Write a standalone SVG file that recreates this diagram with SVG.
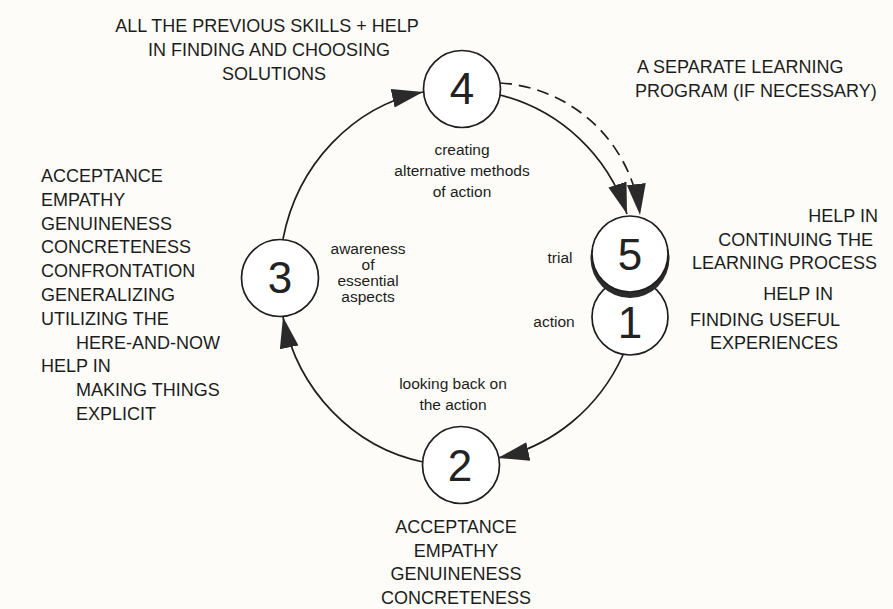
<svg xmlns="http://www.w3.org/2000/svg" width="893" height="609" viewBox="0 0 893 609">
<style>
  .bg { fill: #fdfcf8; }
  .node { fill: #ffffff; stroke: #1e1e1e; stroke-width: 1.7; }
  .num { font-family: "Liberation Sans", Arial, sans-serif; font-size: 44px; fill: #222; text-anchor: middle; }
  .cap { font-family: "Liberation Sans", Arial, sans-serif; font-size: 18px; fill: #1c1c1c; }
  .small { font-family: "Liberation Sans", Arial, sans-serif; font-size: 15.5px; fill: #1c1c1c; text-anchor: middle; }
  .mid { text-anchor: middle; }
  .end { text-anchor: end; }
  .conn { fill: none; stroke: #1e1e1e; stroke-width: 1.7; marker-end: url(#ah); }
  .dash { stroke-dasharray: 12 7; }
</style>
<defs>
  <marker id="ah" markerWidth="32" markerHeight="20" refX="31" refY="9.5" orient="auto" markerUnits="userSpaceOnUse">
    <path d="M0,0 L31,9.5 L0,19 z" fill="#2a2a2a"/>
  </marker>
</defs>
<rect class="bg" x="0" y="0" width="893" height="609"/>

<g id="connectors">
  <path class="conn" d="M283,239 A178,188 0 0 1 423,92"/>
  <path class="conn" d="M500,95 A180,180 0 0 1 627,214"/>
  <path class="conn dash" d="M500,83 A150,150 0 0 1 640,215"/>
  <path class="conn" d="M623,355 A178,188 0 0 1 498,458"/>
  <path class="conn" d="M423,462 A178,188 0 0 1 283,317"/>
</g>

<g id="node-4">
  <circle class="node" cx="462" cy="89" r="38.5"/>
  <text class="num" x="462" y="104">4</text>
</g>
<g id="node-3">
  <circle class="node" cx="280" cy="278" r="38.5"/>
  <text class="num" x="280" y="293">3</text>
</g>
<g id="node-2">
  <circle class="node" cx="461" cy="465" r="38.5"/>
  <text class="num" x="460" y="481">2</text>
</g>
<g id="node-1">
  <circle class="node" cx="630" cy="317" r="38"/>
  <text class="num" x="630" y="338">1</text>
</g>
<g id="node-5">
  <circle cx="630" cy="258.5" r="39.5" fill="#2a2a2a"/>
  <circle class="node" cx="630" cy="254" r="38"/>
  <text class="num" x="630" y="270">5</text>
</g>

<g id="label-step4">
  <text class="cap mid" x="267" y="32">ALL THE PREVIOUS SKILLS + HELP</text>
  <text class="cap mid" x="269" y="56">IN FINDING AND CHOOSING</text>
  <text class="cap mid" x="274" y="80">SOLUTIONS</text>
</g>
<g id="label-program">
  <text class="cap" x="637" y="73">A SEPARATE LEARNING</text>
  <text class="cap" x="635" y="97">PROGRAM (IF NECESSARY)</text>
</g>
<g id="label-step3">
  <text class="cap" x="41" y="182">ACCEPTANCE</text>
  <text class="cap" x="41" y="206">EMPATHY</text>
  <text class="cap" x="41" y="230">GENUINENESS</text>
  <text class="cap" x="41" y="253">CONCRETENESS</text>
  <text class="cap" x="41" y="277">CONFRONTATION</text>
  <text class="cap" x="41" y="301">GENERALIZING</text>
  <text class="cap" x="41" y="325">UTILIZING THE</text>
  <text class="cap" x="76" y="349">HERE-AND-NOW</text>
  <text class="cap" x="41" y="372">HELP IN</text>
  <text class="cap" x="76" y="396">MAKING THINGS</text>
  <text class="cap" x="76" y="420">EXPLICIT</text>
</g>
<g id="label-step5">
  <text class="cap end" x="878" y="222">HELP IN</text>
  <text class="cap end" x="873" y="246">CONTINUING THE</text>
  <text class="cap end" x="877" y="269">LEARNING PROCESS</text>
</g>
<g id="label-step1">
  <text class="cap end" x="833" y="300">HELP IN</text>
  <text class="cap end" x="840" y="326">FINDING USEFUL</text>
  <text class="cap end" x="838" y="349">EXPERIENCES</text>
</g>
<g id="label-step2">
  <text class="cap mid" x="456" y="533">ACCEPTANCE</text>
  <text class="cap mid" x="456" y="557">EMPATHY</text>
  <text class="cap mid" x="456" y="580">GENUINENESS</text>
  <text class="cap mid" x="456" y="604">CONCRETENESS</text>
</g>
<g id="inner-labels">
  <text class="small" x="462" y="155">creating</text>
  <text class="small" x="462" y="176">alternative methods</text>
  <text class="small" x="462" y="197">of action</text>
  <text class="small" x="368" y="254">awareness</text>
  <text class="small" x="368" y="270">of</text>
  <text class="small" x="368" y="286">essential</text>
  <text class="small" x="368" y="302">aspects</text>
  <text class="small" x="560" y="263">trial</text>
  <text class="small" x="554" y="327">action</text>
  <text class="small" x="453" y="389">looking back on</text>
  <text class="small" x="453" y="410">the action</text>
</g>
</svg>
